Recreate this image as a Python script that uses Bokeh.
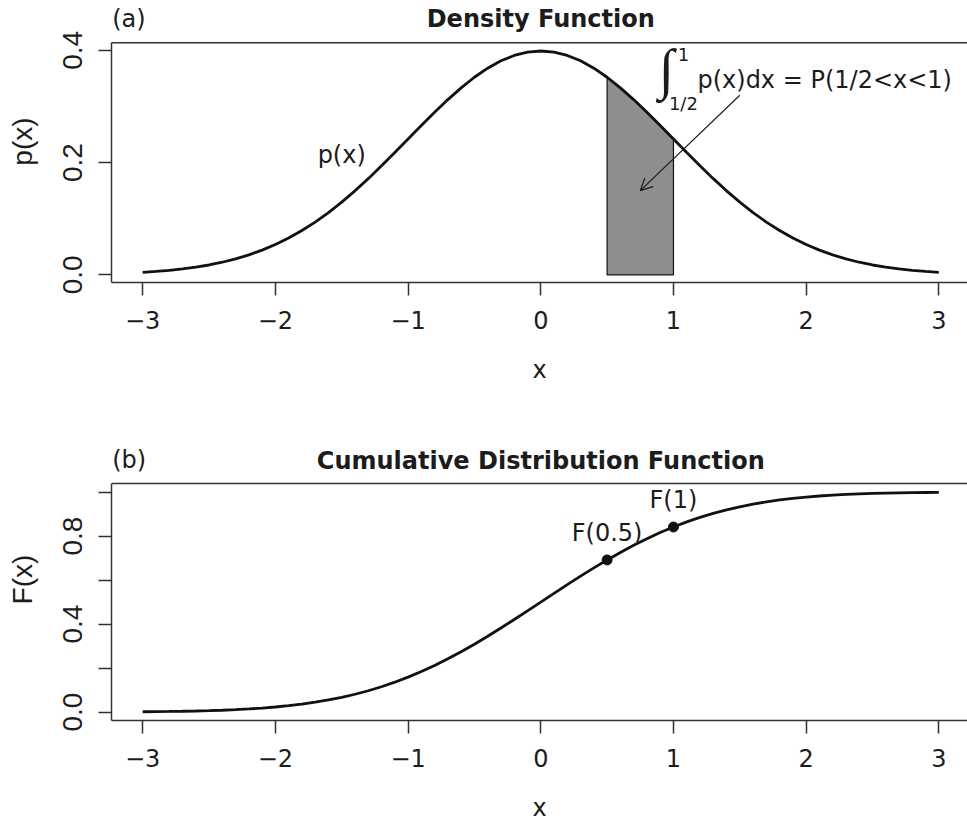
from bokeh.plotting import figure
from bokeh.layouts import column
from bokeh.models import (FixedTicker, CustomJSTickFormatter, PrintfTickFormatter, Span,
                          Label, LabelSet, Arrow, OpenHead, ColumnDataSource, Range1d)
from bokeh.core.properties import value
from bokeh.embed import file_html
from bokeh.resources import INLINE

# ---------------- data ----------------
x_values = [-3.0, -2.9, -2.8, -2.7, -2.6, -2.5, -2.4, -2.3, -2.2, -2.1,
            -2.0, -1.9, -1.8, -1.7, -1.6, -1.5, -1.4, -1.3, -1.2, -1.1,
            -1.0, -0.9, -0.8, -0.7, -0.6, -0.5, -0.4, -0.3, -0.2, -0.1,
            0.0, 0.1, 0.2, 0.3, 0.4, 0.5, 0.6, 0.7, 0.8, 0.9,
            1.0, 1.1, 1.2, 1.3, 1.4, 1.5, 1.6, 1.7, 1.8, 1.9,
            2.0, 2.1, 2.2, 2.3, 2.4, 2.5, 2.6, 2.7, 2.8, 2.9, 3.0]

density_values = [0.0044, 0.0060, 0.0079, 0.0104, 0.0136, 0.0175, 0.0224, 0.0283, 0.0355, 0.0440,
                  0.0540, 0.0656, 0.0790, 0.0940, 0.1109, 0.1295, 0.1497, 0.1714, 0.1942, 0.2179,
                  0.2420, 0.2661, 0.2897, 0.3123, 0.3332, 0.3521, 0.3683, 0.3814, 0.3910, 0.3970,
                  0.3989, 0.3970, 0.3910, 0.3814, 0.3683, 0.3521, 0.3332, 0.3123, 0.2897, 0.2661,
                  0.2420, 0.2179, 0.1942, 0.1714, 0.1497, 0.1295, 0.1109, 0.0940, 0.0790, 0.0656,
                  0.0540, 0.0440, 0.0355, 0.0283, 0.0224, 0.0175, 0.0136, 0.0104, 0.0079, 0.0060, 0.0044]

cdf_values = [0.0013, 0.0019, 0.0026, 0.0035, 0.0047, 0.0062, 0.0082, 0.0107, 0.0139, 0.0179,
              0.0228, 0.0287, 0.0359, 0.0446, 0.0548, 0.0668, 0.0808, 0.0968, 0.1151, 0.1357,
              0.1587, 0.1841, 0.2119, 0.2420, 0.2743, 0.3085, 0.3446, 0.3821, 0.4207, 0.4602,
              0.5000, 0.5398, 0.5793, 0.6179, 0.6554, 0.6915, 0.7257, 0.7580, 0.7881, 0.8159,
              0.8413, 0.8643, 0.8849, 0.9032, 0.9192, 0.9332, 0.9452, 0.9554, 0.9641, 0.9713,
              0.9772, 0.9821, 0.9861, 0.9893, 0.9918, 0.9938, 0.9953, 0.9965, 0.9974, 0.9981, 0.9987]

shade_from = 0.5
shade_to = 1.0

point_x = [0.5, 1.0]
point_y = [0.6915, 0.8413]
point_labels = ["F(0.5)", "F(1)"]

x_ticks = [-3, -2, -1, 0, 1, 2, 3]
density_ticks = [0.0, 0.2, 0.4]
cdf_ticks = [0.0, 0.4, 0.8]
cdf_minor_ticks = [0.2, 0.6, 1.0]

# ---------------- styling ----------------
HFONT = "DejaVu Sans"
VFONT = "Liberation Sans"
INK = "#1c1c1c"
FRAME = "#333333"
CURVE = "#111111"
SHADE = "#8e8e91"

X_LO, X_HI = -3.235, 3.216           # visible x window (box starts at X_LO)
A_BOX = (-0.0137, 0.4137)            # panel (a) plotting box in data units
B_BOX = (-0.0385, 1.0385)            # panel (b) plotting box in data units

minus_fmt = CustomJSTickFormatter(code="return tick < 0 ? '\\u2212' + Math.abs(tick) : tick.toString();")


def style_axes(p, yticks, yminor, ylabel, box):
    p.outline_line_color = None
    p.xgrid.visible = False
    p.ygrid.visible = False
    p.background_fill_color = "white"
    p.border_fill_color = "white"

    xa = p.xaxis[0]
    xa.ticker = FixedTicker(ticks=x_ticks, minor_ticks=[])
    xa.formatter = minus_fmt
    xa.axis_label = "x"
    ya = p.yaxis[0]
    ya.ticker = FixedTicker(ticks=yticks, minor_ticks=yminor)
    ya.formatter = PrintfTickFormatter(format="%.1f")
    ya.axis_label = ylabel
    ya.bounds = box
    for ax in (xa, ya):
        ax.axis_line_color = FRAME
        ax.axis_line_width = 1.5
        ax.major_tick_line_color = FRAME
        ax.major_tick_line_width = 1.5
        ax.major_tick_out = 13
        ax.major_tick_in = 0
        ax.minor_tick_line_color = FRAME
        ax.minor_tick_line_width = 1.5
        ax.minor_tick_out = 13
        ax.minor_tick_in = 0
        ax.major_label_text_color = INK
        ax.axis_label_text_color = INK
        ax.axis_label_text_font_style = "normal"
    xa.minor_tick_line_color = None
    xa.major_label_text_font = HFONT
    xa.major_label_text_font_size = "24px"
    xa.major_label_standoff = 15
    xa.axis_label_text_font = HFONT
    xa.axis_label_text_font_size = "24px"
    xa.axis_label_standoff = 24
    ya.major_label_text_font = VFONT
    ya.major_label_text_font_size = "28px"
    ya.major_label_orientation = "vertical"
    ya.major_label_standoff = 16
    ya.axis_label_text_font = VFONT
    ya.axis_label_text_font_size = "28px"
    ya.axis_label_standoff = 23
    if not yminor:
        ya.minor_tick_line_color = None
    # top side of the box
    p.add_layout(Span(location=box[1], dimension="width", line_color=FRAME, line_width=1.5))


# ---------------- panel (a): density ----------------
p1 = figure(width=967, height=438, x_range=Range1d(X_LO, X_HI), y_range=Range1d(A_BOX[0], 0.4889),
            output_backend="svg", toolbar_location=None,
            min_border_left=111, min_border_right=0, min_border_top=0, min_border_bottom=156)
style_axes(p1, density_ticks, [], "p(x)", A_BOX)

sel = [(x, y) for x, y in zip(x_values, density_values) if shade_from - 1e-9 <= x <= shade_to + 1e-9]
shade_x = [shade_from] + [s[0] for s in sel] + [shade_to]
shade_y = [0.0] + [s[1] for s in sel] + [0.0]
p1.patch(shade_x, shade_y, fill_color=SHADE, line_color=CURVE, line_width=1.2)
p1.line(x_values, density_values, line_color=CURVE, line_width=2.8)

p1.add_layout(Label(x=0, y=0.4563, text="Density Function", text_font=HFONT, text_font_size="24px",
                    text_font_style="bold", text_align="center", text_baseline="middle", text_color=INK))
p1.add_layout(Label(x=-3.23, y=0.4563, text="(a)", text_font=HFONT, text_font_size="24px",
                    text_align="left", text_baseline="middle", text_color=INK))
p1.add_layout(Label(x=-1.5, y=0.213, text="p(x)", text_font=HFONT, text_font_size="24px",
                    text_align="center", text_baseline="middle", text_color=INK))
p1.add_layout(Label(x=0.945, y=0.366, text="\u222b", text_font="Liberation Serif", text_font_size="56px",
                    text_align="center", text_baseline="middle", text_color=INK))
p1.add_layout(Label(x=1.075, y=0.3927, text="1", text_font=HFONT, text_font_size="18px",
                    text_align="center", text_baseline="middle", text_color=INK))
p1.add_layout(Label(x=1.075, y=0.3053, text="1/2", text_font=HFONT, text_font_size="18px",
                    text_align="center", text_baseline="middle", text_color=INK))
p1.add_layout(Label(x=1.181, y=0.3481, text="p(x)dx = P(1/2<x<1)", text_font=HFONT, text_font_size="24px",
                    text_align="left", text_baseline="middle", text_color=INK))
p1.add_layout(Arrow(end=OpenHead(size=12, line_width=1.2, line_color=INK),
                    x_start=1.5, y_start=0.32, x_end=0.75, y_end=0.15,
                    line_width=1.2, line_color=INK))

# ---------------- panel (b): cumulative ----------------
p2 = figure(width=967, height=386, x_range=Range1d(X_LO, X_HI), y_range=Range1d(B_BOX[0], 1.2436),
            output_backend="svg", toolbar_location=None,
            min_border_left=111, min_border_right=0, min_border_top=0, min_border_bottom=101)
style_axes(p2, cdf_ticks, cdf_minor_ticks, "F(x)", B_BOX)

p2.line(x_values, cdf_values, line_color=CURVE, line_width=2.8)
pts = ColumnDataSource(dict(x=point_x, y=point_y, label=point_labels))
p2.scatter("x", "y", source=pts, size=10, color=CURVE)
p2.add_layout(LabelSet(x="x", y="y", text="label", source=pts, y_offset=27,
                       text_font=value(HFONT), text_font_size="24px",
                       text_align="center", text_baseline="middle", text_color=INK))

p2.add_layout(Label(x=0, y=1.1400, text="Cumulative Distribution Function", text_font=HFONT,
                    text_font_size="24px", text_font_style="bold", text_align="center",
                    text_baseline="middle", text_color=INK))
p2.add_layout(Label(x=-3.23, y=1.1467, text="(b)", text_font=HFONT, text_font_size="24px",
                    text_align="left", text_baseline="middle", text_color=INK))

layout = column(p1, p2, spacing=0)
open("out.html", "w").write(file_html(layout, INLINE))
